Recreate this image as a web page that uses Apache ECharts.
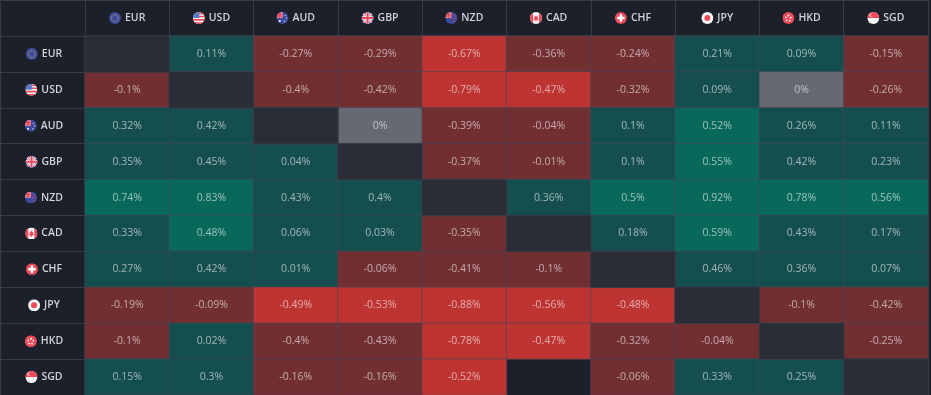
<!DOCTYPE html>
<html><head><meta charset="utf-8">
<style>html,body{margin:0;padding:0;background:#1c202b}#c{width:931px;height:395px}</style>
<script src="https://cdn.jsdelivr.net/npm/echarts@6/dist/echarts.min.js"></script>
</head><body><div id="c"></div>
<script>
const currencies = ['EUR','USD','AUD','GBP','NZD','CAD','CHF','JPY','HKD','SGD'];
const rowEUR = [null,0.11,-0.27,-0.29,-0.67,-0.36,-0.24,0.21,0.09,-0.15];
const rowUSD = [-0.1,null,-0.4,-0.42,-0.79,-0.47,-0.32,0.09,0,-0.26];
const rowAUD = [0.32,0.42,null,0,-0.39,-0.04,0.1,0.52,0.26,0.11];
const rowGBP = [0.35,0.45,0.04,null,-0.37,-0.01,0.1,0.55,0.42,0.23];
const rowNZD = [0.74,0.83,0.43,0.4,null,0.36,0.5,0.92,0.78,0.56];
const rowCAD = [0.33,0.48,0.06,0.03,-0.35,null,0.18,0.59,0.43,0.17];
const rowCHF = [0.27,0.42,0.01,-0.06,-0.41,-0.1,null,0.46,0.36,0.07];
const rowJPY = [-0.19,-0.09,-0.49,-0.53,-0.88,-0.56,-0.48,null,-0.1,-0.42];
const rowHKD = [-0.1,0.02,-0.4,-0.43,-0.78,-0.47,-0.32,-0.04,null,-0.25];
const rowSGD = [0.15,0.3,-0.16,-0.16,-0.52,null,-0.06,0.33,0.25,null];
const rows = [rowEUR,rowUSD,rowAUD,rowGBP,rowNZD,rowCAD,rowCHF,rowJPY,rowHKD,rowSGD];
// cells with no reading that are shown as the neutral "same currency" tile
const selfPairs = [0,1,2,3,4,5,6,7,8,9];

const circle = inner => 'data:image/svg+xml;charset=utf-8,' + encodeURIComponent(
 '<svg xmlns="http://www.w3.org/2000/svg" width="48" height="48" viewBox="0 0 48 48"><defs><clipPath id="a"><circle cx="24" cy="24" r="24"/></clipPath></defs><g clip-path="url(#a)">'+inner+'</g></svg>');
const stars = (()=>{let s='';for(let i=0;i<12;i++){const a=i*Math.PI/6;s+='<circle cx="'+(24+14*Math.cos(a)).toFixed(1)+'" cy="'+(24+14*Math.sin(a)).toFixed(1)+'" r="2.2" fill="#c9b23c"/>';}return s;})();
const flags = {
 EUR: circle('<rect width="48" height="48" fill="#3d4a9e"/>'+stars),
 USD: circle('<rect width="48" height="48" fill="#f4f4f6"/><rect y="28" width="48" height="7" fill="#ee4a5a"/><rect y="41" width="48" height="7" fill="#ee4a5a"/><rect y="15" x="24" width="24" height="6" fill="#ee4a5a"/><rect y="3" x="24" width="24" height="6" fill="#ee4a5a"/><rect width="26" height="24" fill="#5a78c8"/>'),
 AUD: circle('<rect width="48" height="48" fill="#3d4a9e"/><rect width="24" height="24" fill="#e8e8f0"/><path d="M0 0L24 24M24 0L0 24" stroke="#e8475a" stroke-width="5"/><rect x="9" width="6" height="24" fill="#e8475a"/><rect y="9" width="24" height="6" fill="#e8475a"/><circle cx="34" cy="14" r="2.5" fill="#fff"/><circle cx="40" cy="24" r="2.5" fill="#fff"/><circle cx="32" cy="36" r="2.5" fill="#fff"/><circle cx="13" cy="36" r="4" fill="#fff"/>'),
 GBP: circle('<rect width="48" height="48" fill="#3d4a9e"/><path d="M0 0L48 48M48 0L0 48" stroke="#f0f0f4" stroke-width="10"/><path d="M0 0L48 48M48 0L0 48" stroke="#e8475a" stroke-width="4"/><rect x="17" width="14" height="48" fill="#f0f0f4"/><rect y="17" width="48" height="14" fill="#f0f0f4"/><rect x="20" width="8" height="48" fill="#e8475a"/><rect y="20" width="48" height="8" fill="#e8475a"/>'),
 NZD: circle('<rect width="48" height="48" fill="#3d4a9e"/><rect width="24" height="24" fill="#e8e8f0"/><path d="M0 0L24 24M24 0L0 24" stroke="#e8475a" stroke-width="5"/><rect x="9" width="6" height="24" fill="#e8475a"/><rect y="9" width="24" height="6" fill="#e8475a"/><circle cx="35" cy="13" r="2.8" fill="#e8475a"/><circle cx="41" cy="24" r="2.8" fill="#e8475a"/><circle cx="30" cy="26" r="2.8" fill="#e8475a"/><circle cx="35" cy="38" r="2.8" fill="#e8475a"/>'),
 CAD: circle('<rect width="48" height="48" fill="#f4f4f6"/><rect width="12" height="48" fill="#ee4a5a"/><rect x="36" width="12" height="48" fill="#ee4a5a"/><path d="M24 11l4 8 4-1-2 9 5-1-3 6-6 0v6h-4v-6l-6 0-3-6 5 1-2-9 4 1z" fill="#ee4a5a"/>'),
 CHF: circle('<rect width="48" height="48" fill="#ee4a5a"/><rect x="19" y="9" width="10" height="30" fill="#fff"/><rect x="9" y="19" width="30" height="10" fill="#fff"/>'),
 JPY: circle('<rect width="48" height="48" fill="#f6f6f8"/><circle cx="24" cy="24" r="12" fill="#ee4a5a"/>'),
 HKD: circle('<rect width="48" height="48" fill="#ee4a5a"/><circle cx="24" cy="14" r="4" fill="#fff"/><circle cx="34" cy="22" r="3.5" fill="#fff"/><circle cx="29" cy="34" r="3.5" fill="#fff"/><circle cx="17" cy="33" r="3.5" fill="#fff"/><circle cx="14" cy="21" r="3.5" fill="#fff"/>'),
 SGD: circle('<rect width="48" height="48" fill="#f6f6f8"/><rect width="48" height="24" fill="#ee4a5a"/><circle cx="15" cy="12" r="6.5" fill="#fff"/><circle cx="18" cy="12" r="6" fill="#ee4a5a"/>')
};
const rich = {t:{color:'#cfd2d9',fontSize:10.5,fontWeight:600,fontFamily:'"Open Sans"',padding:[0,0,0,4]}};
currencies.forEach(c=>{rich[c]={width:12,height:12,backgroundColor:{image:flags[c]}};});
const labelCfg = {
 color:'#cfd2d9',interval:0,
 formatter: v => '{'+v+'|}{t|'+v+'}',
 rich
};
const line = '#383b45';
const cells = [];
rows.forEach((r,y)=>r.forEach((v,x)=>{ if(v!==null) cells.push([x,y,v]); }));
const chart = echarts.init(document.getElementById('c'),null,{renderer:'canvas'});
chart.setOption({
 animation:false,
 backgroundColor:'#1c202b',
 grid:{left:85,right:3,top:36,height:360,show:false},
 graphic:[{type:'rect',z:100,silent:true,shape:{x:0.5,y:0.5,width:928,height:400},style:{fill:'none',stroke:line,lineWidth:1}}],
 xAxis:{type:'category',position:'top',data:currencies,
  axisLine:{show:true,lineStyle:{color:line}},
  axisTick:{show:true,length:36,interval:0,lineStyle:{color:line}},
  axisLabel:{...labelCfg,margin:12},splitLine:{show:false}},
 yAxis:{type:'category',inverse:true,data:currencies,
  axisLine:{show:true,lineStyle:{color:line}},
  axisTick:{show:true,length:85,interval:0,lineStyle:{color:line}},
  axisLabel:{...labelCfg,margin:41,align:'center'},splitLine:{show:false}},
 visualMap:{show:false,type:'piecewise',seriesIndex:0,dimension:2,
  pieces:[
   {gte:0.47,color:'#08695a'},
   {gt:0,lt:0.47,color:'#154e4e'},
   {value:0,color:'#666973'},
   {gt:-0.465,lt:0,color:'#722f31'},
   {lte:-0.465,color:'#bd3432'}]},
 series:[
  {name:'change',type:'heatmap',data:cells,
   itemStyle:{borderColor:'rgba(70,72,92,0.6)',borderWidth:1},
   label:{show:true,color:'rgba(255,255,255,0.58)',fontSize:10.5,fontFamily:'"Open Sans"',
    formatter:p=>p.value[2]+'%'},
   emphasis:{disabled:true}},
  {name:'self',type:'heatmap',data:selfPairs.map(i=>[i,i,0]),
   itemStyle:{color:'#2a2d37',borderColor:line,borderWidth:1},
   label:{show:false},emphasis:{disabled:true}}
 ]
});
</script></body></html>
